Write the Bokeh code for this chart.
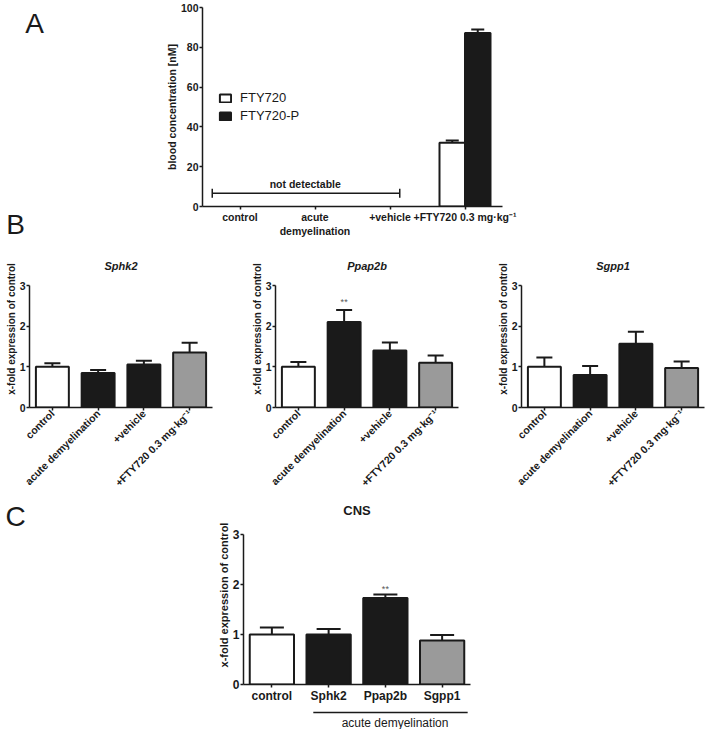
import math
from bokeh.plotting import figure
from bokeh.models import (ColumnDataSource, Whisker, TeeHead, Legend, LegendItem,
                          FixedTicker, Range1d)
from bokeh.transform import dodge
from bokeh.layouts import column, row
from bokeh.embed import file_html
from bokeh.resources import INLINE
from bokeh.core.properties import value

FONT = "Liberation Sans"
INK = "#1a1a1a"
GREY = "#9a9a9a"

# ---------------- data ----------------
# Panel A: blood concentration [nM]
a_groups = ["control", "acute\ndemyelination", "+vehicle", "+FTY720 0.3 mg·kg⁻¹"]
a_treated = ["+FTY720 0.3 mg·kg⁻¹"]
a_fty720 = [32.0]
a_fty720_sem = [1.2]
a_fty720p = [87.2]
a_fty720p_sem = [1.7]
a_yticks = [0, 20, 40, 60, 80, 100]
a_nd_level = [6.6]            # "not detectable" bracket height
a_nd_span = [0.13, 2.63]      # bracket extent in category units

# Panel B: x-fold expression of control
b_groups = ["control", "acute demyelination", "+vehicle", "+FTY720 0.3 mg·kg⁻¹"]
b_colors = ["white", INK, INK, GREY]
sphk2 = [1.00, 0.85, 1.06, 1.35]
sphk2_sem = [0.09, 0.07, 0.09, 0.24]
ppap2b = [1.00, 2.10, 1.40, 1.10]
ppap2b_sem = [0.12, 0.30, 0.20, 0.18]
sgpp1 = [1.00, 0.80, 1.57, 0.97]
sgpp1_sem = [0.23, 0.22, 0.29, 0.16]
b_yticks = [0, 1, 2, 3]

# Panel C: CNS
c_groups = ["control", "Sphk2", "Ppap2b", "Sgpp1"]
c_colors = ["white", INK, INK, GREY]
cns = [1.00, 1.00, 1.73, 0.88]
cns_sem = [0.14, 0.11, 0.07, 0.11]

SVG = dict(toolbar_location=None, output_backend="svg")


def style(p, tick_size="11px", label_size="10.5px"):
    p.xgrid.visible = False
    p.ygrid.visible = False
    p.outline_line_color = None
    p.background_fill_color = "white"
    p.border_fill_color = "white"
    for ax in list(p.xaxis) + list(p.yaxis):
        ax.axis_line_width = 1.5
        ax.axis_line_color = INK
        ax.major_tick_line_width = 1.5
        ax.major_tick_line_color = INK
        ax.major_tick_out = 3
        ax.major_tick_in = 0
        ax.minor_tick_line_color = None
        ax.major_label_text_font = FONT
        ax.major_label_text_font_style = "bold"
        ax.major_label_text_font_size = tick_size
        ax.major_label_text_color = INK
        ax.axis_label_text_font = FONT
        ax.axis_label_text_font_style = "bold"
        ax.axis_label_text_font_size = label_size
        ax.axis_label_text_color = INK
        ax.major_label_standoff = 1
        ax.axis_label_standoff = 0


def blank(w, h, x_range=None, left=0, right=0):
    """Axis-less strip used to carry panel letters / annotations."""
    p = figure(x_range=x_range if x_range is not None else Range1d(0, w),
               y_range=Range1d(0, h), frame_width=w, frame_height=h,
               min_border_left=left, min_border_right=right, min_border_top=0, min_border_bottom=0,
               x_axis_location=None, y_axis_location=None, **SVG)
    p.xgrid.visible = False
    p.ygrid.visible = False
    p.outline_line_color = None
    return p


def txt(p, x, y, s, size, style="normal", color=INK):
    p.text(x=[x], y=[y], text=[s], text_align="center", text_baseline="middle",
           text_font=value(FONT), text_font_size=size, text_font_style=style, text_color=color)


# ---------------- Panel A ----------------
pa = figure(x_range=a_groups, y_range=Range1d(0, 100), frame_width=300, frame_height=199,
            min_border_left=142, min_border_right=203, min_border_top=7, min_border_bottom=34, **SVG)
style(pa, tick_size="10.5px", label_size="10.5px")
pa.yaxis.ticker = FixedTicker(ticks=a_yticks)
pa.yaxis.axis_label = "blood concentration [nM]"

src_a = ColumnDataSource(dict(
    x=a_treated, fty=a_fty720, fty_up=[m + s for m, s in zip(a_fty720, a_fty720_sem)],
    ftyp=a_fty720p, ftyp_up=[m + s for m, s in zip(a_fty720p, a_fty720p_sem)]))
xw = dodge("x", -0.17, range=pa.x_range)
xb = dodge("x", 0.17, range=pa.x_range)
r1 = pa.vbar(x=xw, top="fty", width=0.34, fill_color="white", line_color=INK, line_width=2, source=src_a)
r2 = pa.vbar(x=xb, top="ftyp", width=0.34, fill_color=INK, line_color=INK, line_width=2, source=src_a)
for base, lo, up in [(xw, "fty", "fty_up"), (xb, "ftyp", "ftyp_up")]:
    pa.add_layout(Whisker(source=src_a, base=base, lower=lo, upper=up, dimension="height",
                          lower_head=None, upper_head=TeeHead(size=13, line_width=2, line_color=INK),
                          line_width=2, line_color=INK))

nd_src = ColumnDataSource(dict(base=a_nd_level, lower=[a_nd_span[0]], upper=[a_nd_span[1]]))
pa.add_layout(Whisker(source=nd_src, base="base", lower="lower", upper="upper", dimension="width",
                      lower_head=TeeHead(size=9, line_width=1.5, line_color=INK),
                      upper_head=TeeHead(size=9, line_width=1.5, line_color=INK),
                      line_width=1.5, line_color=INK))
txt(pa, 1.37, 11.4, "not detectable", "10.5px", "bold")

legend = Legend(items=[LegendItem(label="FTY720", renderers=[r1]),
                       LegendItem(label="FTY720-P", renderers=[r2])],
                location=(16, 83), border_line_color=None, background_fill_alpha=0,
                padding=0, margin=0, spacing=3, glyph_width=14, glyph_height=10,
                label_height=12, label_standoff=8, label_text_font=FONT,
                label_text_font_size="13px", label_text_color=INK)
pa.add_layout(legend)

la = blank(60, 240)
txt(la, 34, 217.5, "A", "28px")
txt(la, 15, 16.5, "B", "28px")


# ---------------- Panel B ----------------
B_TOP = 3 * 157 / 122   # frame extends above the axis to hold the title


def make_b(title, vals, sems, left, right, stars=None):
    p = figure(x_range=b_groups, y_range=Range1d(0, B_TOP), frame_width=183, frame_height=157,
               min_border_left=left, min_border_right=right, min_border_top=10, min_border_bottom=92,
               **SVG)
    style(p, tick_size="10.5px", label_size="10px")
    p.yaxis.ticker = FixedTicker(ticks=b_yticks)
    p.yaxis.bounds = (0, 3)
    p.yaxis.axis_label = "x-fold expression of control"
    p.xaxis.major_label_orientation = math.pi / 4
    src = ColumnDataSource(dict(x=b_groups, v=vals, up=[m + s for m, s in zip(vals, sems)], c=b_colors))
    p.vbar(x="x", top="v", width=0.72, fill_color="c", line_color=INK, line_width=2, source=src)
    p.add_layout(Whisker(source=src, base="x", lower="v", upper="up", dimension="height",
                         lower_head=None, upper_head=TeeHead(size=16, line_width=2, line_color=INK),
                         line_width=2, line_color=INK))
    txt(p, 2.0, 3.49, title, "11px", "bold italic")
    if stars:
        grp, yv = stars
        p.text(x=[grp], y=[yv], text=["**"], text_align="center", text_baseline="middle",
               text_font=value(FONT), text_font_size="9px", text_color="#555555")
    return p


b1 = make_b("Sphk2", sphk2, sphk2_sem, 29, 31)
b2 = make_b("Ppap2b", ppap2b, ppap2b_sem, 32, 31, stars=("acute demyelination", 2.6))
b3 = make_b("Sgpp1", sgpp1, sgpp1_sem, 32, 1)

# ---------------- Panel C ----------------
C_TOP = 3 * 179 / 150
pc = figure(x_range=c_groups, y_range=Range1d(0, C_TOP), frame_width=227, frame_height=179,
            min_border_left=183, min_border_right=235, min_border_top=6, min_border_bottom=18, **SVG)
style(pc, tick_size="12px", label_size="11px")
pc.yaxis.ticker = FixedTicker(ticks=b_yticks)
pc.yaxis.bounds = (0, 3)
pc.yaxis.axis_label = "x-fold expression of control"
src_c = ColumnDataSource(dict(x=c_groups, v=cns, up=[m + s for m, s in zip(cns, cns_sem)], c=c_colors))
pc.vbar(x="x", top="v", width=0.78, fill_color="c", line_color=INK, line_width=2, source=src_c)
pc.add_layout(Whisker(source=src_c, base="x", lower="v", upper="up", dimension="height",
                      lower_head=None, upper_head=TeeHead(size=24, line_width=2, line_color=INK),
                      line_width=2, line_color=INK))
pc.text(x=["Ppap2b"], y=[1.92], text=["**"], text_align="center", text_baseline="middle",
        text_font=value(FONT), text_font_size="9px", text_color="#555555")
txt(pc, 2.0, 3.48, "CNS", "13px", "bold")

# strip under panel C: "acute demyelination" bracket, same categorical scale
pcs = blank(227, 25, x_range=pc.x_range, left=183, right=235)
pcs.segment(x0=[1.23], y0=[18], x1=[3.95], y1=[18], line_color=INK, line_width=1.5)
txt(pcs, 2.67, 8, "acute demyelination", "12px")

lc = blank(60, 228)
txt(lc, 15, 211.5, "C", "28px")

layout = column(row(column(la), pa), row(b1, b2, b3), row(column(lc), column(pc, pcs)))
open("out.html", "w").write(file_html(layout, INLINE))
